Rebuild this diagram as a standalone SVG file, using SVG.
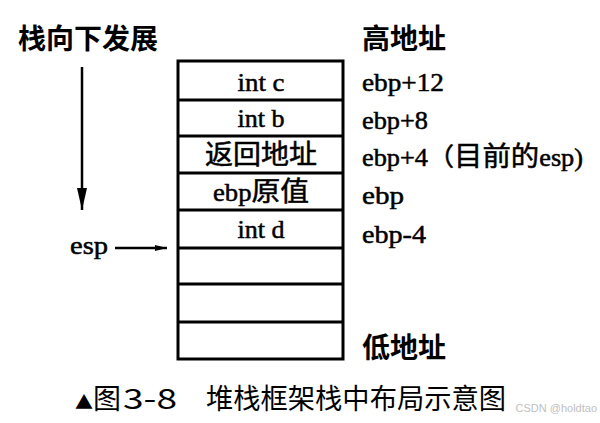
<svg xmlns="http://www.w3.org/2000/svg" width="600" height="423" viewBox="0 0 600 423">
<style>
.t{font-family:"Liberation Serif","Noto Sans CJK SC",serif;font-size:25px;fill:#000;stroke:#000;stroke-width:0.5}
.k{font-family:"Noto Sans CJK SC",serif;font-size:27px}
.c{text-anchor:middle}
.b{font-family:"Noto Sans CJK SC",sans-serif;font-weight:bold;font-size:28px;fill:#000}
.cap{font-family:"Noto Sans CJK SC",sans-serif;font-size:28px;fill:#000}
.ln{stroke:#000;stroke-width:3;fill:none}
</style>
<defs>
<marker id="ah" markerWidth="12" markerHeight="6" refX="12" refY="3" orient="auto" markerUnits="userSpaceOnUse">
<path d="M0,0 L12,3 L0,6 Z" fill="#000"/>
</marker>
<marker id="ahv" markerWidth="22" markerHeight="10" refX="22" refY="5" orient="auto" markerUnits="userSpaceOnUse">
<path d="M0,0 L22,5 L0,10 Z" fill="#000"/>
</marker>
</defs>
<rect x="0" y="0" width="600" height="423" fill="#fff"/>
<g id="stack">
<rect x="178" y="61" width="165" height="298" class="ln"/>
<line x1="178" y1="100" x2="343" y2="100" class="ln"/>
<line x1="178" y1="136" x2="343" y2="136" class="ln"/>
<line x1="178" y1="173" x2="343" y2="173" class="ln"/>
<line x1="178" y1="210" x2="343" y2="210" class="ln"/>
<line x1="178" y1="248" x2="343" y2="248" class="ln"/>
<line x1="178" y1="284" x2="343" y2="284" class="ln"/>
<line x1="178" y1="322" x2="343" y2="322" class="ln"/>
<text x="261" y="91" class="t c" textLength="47" lengthAdjust="spacingAndGlyphs">int c</text>
<text x="261" y="127" class="t c" textLength="47" lengthAdjust="spacingAndGlyphs">int b</text>
<text x="261" y="164" class="t c k" textLength="112" lengthAdjust="spacingAndGlyphs">返回地址</text>
<text x="261" y="201" class="t c" textLength="96" lengthAdjust="spacingAndGlyphs">ebp<tspan class="k">原值</tspan></text>
<text x="261" y="238" class="t c" textLength="47" lengthAdjust="spacingAndGlyphs">int d</text>
</g>
<g id="labels">
<text x="18" y="49" class="b">栈向下发展</text>
<text x="362" y="49" class="b">高地址</text>
<text x="362" y="91" class="t" textLength="82" lengthAdjust="spacingAndGlyphs">ebp+12</text>
<text x="362" y="129" class="t" textLength="66" lengthAdjust="spacingAndGlyphs">ebp+8</text>
<text x="362" y="166" class="t" textLength="221" lengthAdjust="spacingAndGlyphs">ebp+4（<tspan class="k">目前的</tspan>esp)</text>
<text x="362" y="204" class="t" textLength="42" lengthAdjust="spacingAndGlyphs">ebp</text>
<text x="362" y="243" class="t" textLength="64" lengthAdjust="spacingAndGlyphs">ebp-4</text>
<text x="362" y="358" class="b">低地址</text>
<text x="70" y="254" class="t" textLength="38" lengthAdjust="spacingAndGlyphs">esp</text>
</g>
<g id="connectors">
<line x1="82" y1="67" x2="82" y2="210" stroke="#000" stroke-width="2.5" marker-end="url(#ahv)"/>
<line x1="115" y1="248" x2="167" y2="248" stroke="#000" stroke-width="2.5" marker-end="url(#ah)"/>
</g>
<g id="caption">
<text x="75" y="409" class="cap"><tspan font-size="18">▲</tspan>图</text>
<text x="123" y="409" class="cap" font-family="Liberation Sans,sans-serif" textLength="54" lengthAdjust="spacingAndGlyphs">3-8</text>
<text x="206" y="409" class="cap" textLength="300" lengthAdjust="spacingAndGlyphs">堆栈框架栈中布局示意图</text>
<text x="597" y="412" text-anchor="end" font-family="Liberation Sans,sans-serif" font-size="11" fill="#c0c0c0">CSDN @holdtao</text>
</g>
</svg>
